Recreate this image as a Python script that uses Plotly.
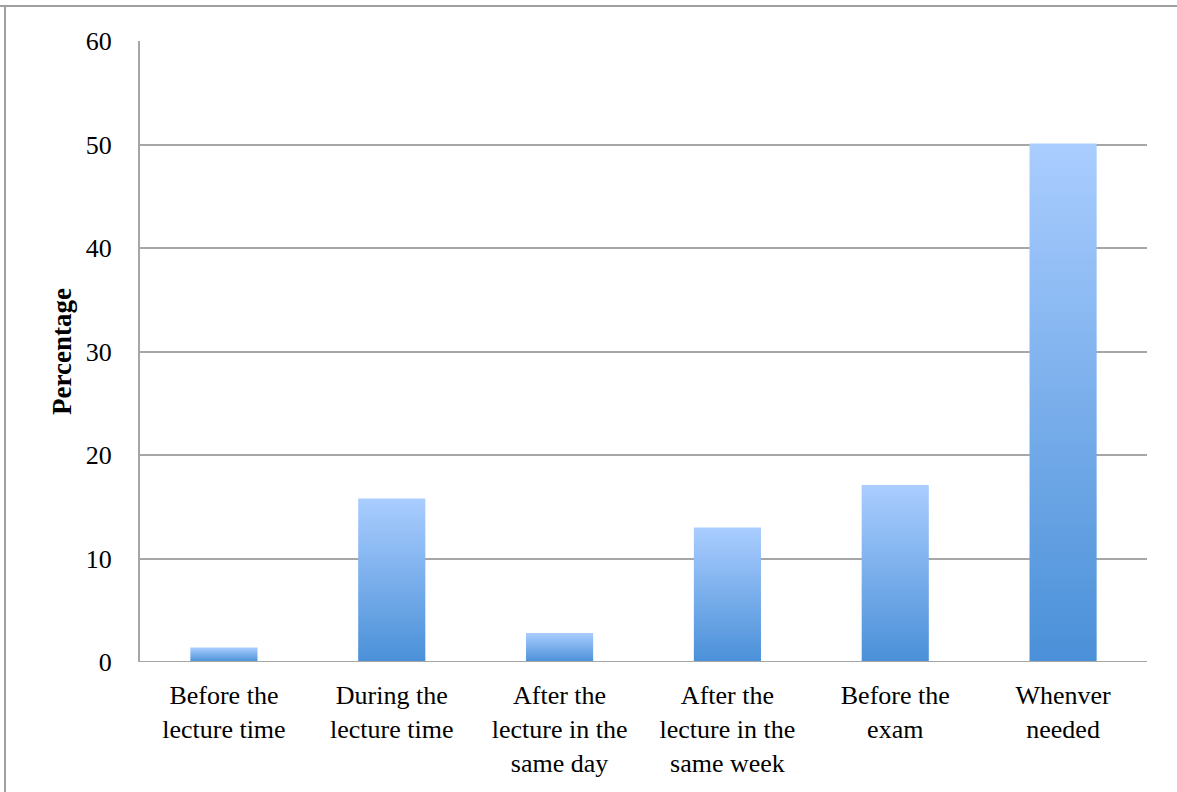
import plotly.graph_objects as go

# Survey data: when students use the lecture material
categories = [
    "Before the<br>lecture time",
    "During the<br>lecture time",
    "After the<br>lecture in the<br>same day",
    "After the<br>lecture in the<br>same week",
    "Before the<br>exam",
    "Whenver<br>needed",
]
percentages = [1.4, 15.8, 2.8, 13.0, 17.1, 50.1]
y_ticks = [0, 10, 20, 30, 40, 50, 60]

BAR_WIDTH = 0.4
FONT = "Liberation Serif"
GRID = "#a6a6a6"

fig = go.Figure()

# Each bar is a filled rectangle so it can carry a vertical gradient
for i, value in enumerate(percentages):
    x0, x1 = i - BAR_WIDTH / 2, i + BAR_WIDTH / 2
    fig.add_trace(go.Scatter(
        x=[x0, x1, x1, x0, x0],
        y=[0, 0, value, value, 0],
        mode="lines",
        line=dict(width=0, color="rgba(0,0,0,0)"),
        fill="toself",
        fillgradient=dict(
            type="vertical",
            start=0,
            stop=value,
            colorscale=[[0, "#4a90d8"], [1, "#aacdff"]],
        ),
        hoverinfo="text",
        text=f"{value}",
        showlegend=False,
    ))

fig.update_layout(
    width=1177,
    height=792,
    margin=dict(l=140, r=30, t=41, b=130),
    paper_bgcolor="white",
    plot_bgcolor="white",
    font=dict(family=FONT, size=26, color="#000000"),
    xaxis=dict(
        range=[-0.5, len(categories) - 0.5],
        tickmode="array",
        tickvals=list(range(len(categories))),
        ticktext=categories,
        tickfont=dict(family=FONT, size=26),
        showgrid=False,
        zeroline=False,
        showline=False,
        ticks="",
        ticklabelstandoff=15,
        fixedrange=True,
    ),
    yaxis=dict(
        range=[0, 60],
        tickmode="array",
        tickvals=y_ticks,
        tickfont=dict(family=FONT, size=26),
        showgrid=True,
        gridcolor=GRID,
        gridwidth=2,
        zeroline=False,
        showline=True,
        linecolor=GRID,
        linewidth=2,
        ticks="",
        ticklabelstandoff=21,
        title=dict(text="<b>Percentage</b>", font=dict(family=FONT, size=27), standoff=6),
        fixedrange=True,
    ),
    shapes=[
        # baseline at zero
        dict(type="line", xref="paper", yref="y", x0=0, x1=1, y0=0, y1=0,
             line=dict(color=GRID, width=2), layer="above"),
        # outer frame (top and left edges)
        dict(type="line", xref="paper", yref="paper", x0=-140 / 1007, x1=1.1,
             y0=1 + 35 / 621, y1=1 + 35 / 621, line=dict(color="#a0a0a0", width=2)),
        dict(type="line", xref="paper", yref="paper", x0=-135 / 1007, x1=-135 / 1007,
             y0=-0.3, y1=1 + 35 / 621, line=dict(color="#a0a0a0", width=2)),
    ],
)

fig.write_html("out.html")
